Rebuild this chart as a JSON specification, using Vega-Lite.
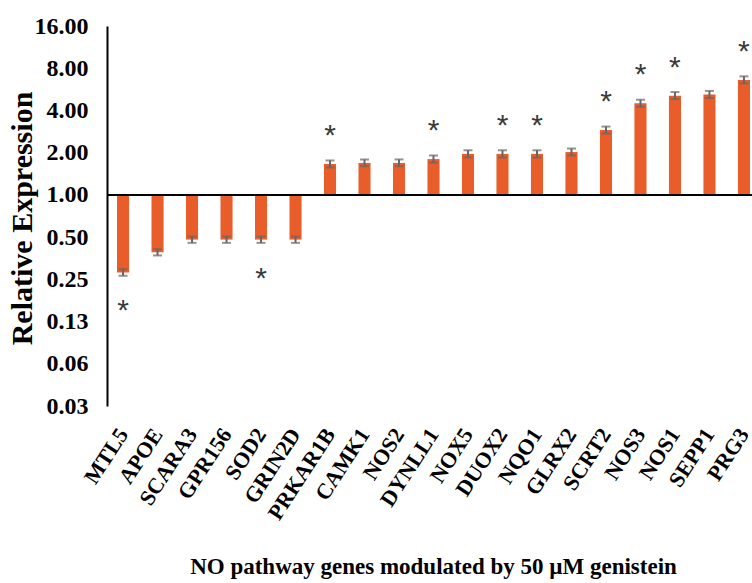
{
  "$schema": "https://vega.github.io/schema/vega-lite/v6.json",
  "autosize": {"type": "none"},
  "padding": {"left": 107, "top": 26, "right": 0, "bottom": 177},
  "width": 645,
  "height": 380,
  "background": "white",
  "config": {"view": {"stroke": null}, "font": "Liberation Serif"},
  "data": {"values": [
    {"gene": "MTL5", "value": 0.28, "lo": 0.265, "hi": 0.295, "sig": "down"},
    {"gene": "APOE", "value": 0.39, "lo": 0.37, "hi": 0.41, "sig": ""},
    {"gene": "SCARA3", "value": 0.48, "lo": 0.455, "hi": 0.505, "sig": ""},
    {"gene": "GPR156", "value": 0.48, "lo": 0.455, "hi": 0.505, "sig": ""},
    {"gene": "SOD2", "value": 0.48, "lo": 0.455, "hi": 0.505, "sig": "down"},
    {"gene": "GRIN2D", "value": 0.48, "lo": 0.455, "hi": 0.505, "sig": ""},
    {"gene": "PRKAR1B", "value": 1.66, "lo": 1.57, "hi": 1.76, "sig": "up"},
    {"gene": "CAMK1", "value": 1.69, "lo": 1.6, "hi": 1.79, "sig": ""},
    {"gene": "NOS2", "value": 1.69, "lo": 1.6, "hi": 1.79, "sig": ""},
    {"gene": "DYNLL1", "value": 1.8, "lo": 1.7, "hi": 1.91, "sig": "up"},
    {"gene": "NOX5", "value": 1.96, "lo": 1.85, "hi": 2.08, "sig": ""},
    {"gene": "DUOX2", "value": 1.96, "lo": 1.85, "hi": 2.08, "sig": "up"},
    {"gene": "NQO1", "value": 1.96, "lo": 1.85, "hi": 2.08, "sig": "up"},
    {"gene": "GLRX2", "value": 2.02, "lo": 1.91, "hi": 2.14, "sig": ""},
    {"gene": "SCRT2", "value": 2.9, "lo": 2.74, "hi": 3.07, "sig": "up"},
    {"gene": "NOS3", "value": 4.5, "lo": 4.25, "hi": 4.77, "sig": "up"},
    {"gene": "NOS1", "value": 5.1, "lo": 4.82, "hi": 5.41, "sig": "up"},
    {"gene": "SEPP1", "value": 5.2, "lo": 4.91, "hi": 5.51, "sig": ""},
    {"gene": "PRG3", "value": 6.6, "lo": 6.24, "hi": 7.0, "sig": "up"}
  ]},
  "encoding": {
    "x": {
      "field": "gene", "type": "nominal", "sort": null,
      "scale": {"range": [0, 653], "paddingInner": 0.65, "paddingOuter": 0.29},
      "axis": {
        "title": "NO pathway genes modulated by 50 µM genistein",
        "domain": false, "ticks": false,
        "labelAngle": -57, "labelAlign": "right", "labelBaseline": "middle",
        "labelPadding": 24, "labelFont": "Liberation Serif", "labelFontWeight": "bold",
        "labelFontSize": 22, "labelColor": "black",
        "titleFont": "Liberation Serif", "titleFontWeight": "bold", "titleFontSize": 23,
        "titleColor": "black", "titleY": 160, "titleX": 326, "titleBaseline": "middle", "titleAlign": "center"
      }
    }
  },
  "layer": [
    {
      "mark": {"type": "bar", "color": "#E95D2A"},
      "encoding": {
        "y": {
          "field": "value", "type": "quantitative",
          "scale": {"type": "log", "base": 2, "domain": [0.03125, 16], "nice": false},
          "axis": {
            "title": "Relative Expression",
            "values": [0.03125, 0.0625, 0.125, 0.25, 0.5, 1, 2, 4, 8, 16],
            "format": ".2f", "grid": false, "ticks": false,
            "domainColor": "black", "domainWidth": 2,
            "labelPadding": 19, "labelFont": "Liberation Serif", "labelFontWeight": "bold",
            "labelFontSize": 24, "labelColor": "black",
            "titleFont": "Liberation Serif", "titleFontWeight": "bold", "titleFontSize": 30,
            "titleColor": "black", "titleX": -85, "titleY": 192, "titleAlign": "center", "titleBaseline": "middle"
          }
        },
        "y2": {"datum": 1}
      }
    },
    {
      "mark": {"type": "rule", "color": "black", "strokeWidth": 2},
      "encoding": {"x": null, "y": {"datum": 1}}
    },
    {
      "mark": {"type": "rule", "color": "#666666", "strokeWidth": 2},
      "encoding": {"y": {"field": "lo", "type": "quantitative"}, "y2": {"field": "hi"}}
    },
    {
      "mark": {"type": "tick", "color": "#666666", "thickness": 2, "size": 9},
      "encoding": {"y": {"field": "lo", "type": "quantitative"}}
    },
    {
      "mark": {"type": "tick", "color": "#666666", "thickness": 2, "size": 9},
      "encoding": {"y": {"field": "hi", "type": "quantitative"}}
    },
    {
      "transform": [{"filter": "datum.sig == 'up'"}],
      "mark": {"type": "text", "text": "*", "font": "Liberation Sans", "fontSize": 30, "color": "#3a3a3a", "baseline": "middle", "dy": -28},
      "encoding": {"y": {"field": "value", "type": "quantitative"}}
    },
    {
      "transform": [{"filter": "datum.sig == 'down'"}],
      "mark": {"type": "text", "text": "*", "font": "Liberation Sans", "fontSize": 30, "color": "#3a3a3a", "baseline": "middle", "dy": 39},
      "encoding": {"y": {"field": "value", "type": "quantitative"}}
    }
  ]
}
